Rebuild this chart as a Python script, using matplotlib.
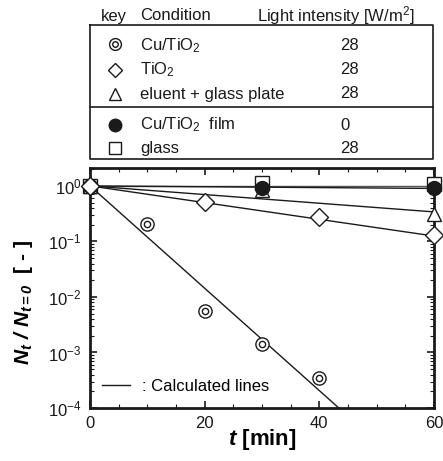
import matplotlib
matplotlib.use("Agg")
from matplotlib import pyplot as plt

plt.rcParams['font.family'] = ['Liberation Sans', 'DejaVu Sans']
plt.rcParams['mathtext.fontset'] = 'custom'
plt.rcParams['mathtext.rm'] = 'Liberation Sans'
plt.rcParams['mathtext.it'] = 'Liberation Sans:italic'
plt.rcParams['mathtext.bf'] = 'Liberation Sans:bold'
plt.rcParams['mathtext.bfit'] = 'Liberation Sans:italic:bold'

# measured points
t_cu = [0, 10, 20, 30, 40]
n_cu = [1.0, 0.21, 0.0055, 0.0014, 0.00035]
t_ti = [0, 20, 40, 60]
n_ti = [1.0, 0.52, 0.27, 0.13]
t_el = [0, 30, 60]
n_el = [1.0, 0.85, 0.31]
t_film = [0, 30, 60]
n_film = [1.0, 0.93, 0.9]
t_gl = [0, 30, 60]
n_gl = [1.0, 1.15, 1.1]

# calculated lines (end points)
calc_t = [0, 60]
calc_cu_t = [0, 43.4]
calc_cu = [1.0, 1e-4]
calc_ti = [1.0, 0.125]
calc_el = [1.0, 0.34]
calc_film = [1.0, 0.9]
calc_gl = [1.0, 1.0]

# table contents
keys = ['dcircle', 'D', '^', 'o', 's']
conditions = ['Cu/TiO$_2$', 'TiO$_2$', 'eluent + glass plate', 'Cu/TiO$_2$  film', 'glass']
intensity = ['28', '28', '28', '0', '28']

fig = plt.figure(figsize=(4.43, 4.61), dpi=100)
ax = fig.add_axes([90/443, 53/461, 344/443, 240/461])

lc = '#1a1a1a'
ax.plot(calc_t, calc_gl, color='#555555', lw=1.0, zorder=2)
ax.plot(calc_t, calc_film, color=lc, lw=1.0, zorder=2)
ax.plot(calc_t, calc_el, color=lc, lw=1.0, zorder=2)
ax.plot(calc_t, calc_ti, color=lc, lw=1.0, zorder=2)
ax.plot(calc_cu_t, calc_cu, color=lc, lw=1.0, zorder=2, label=': Calculated lines')

mk = dict(linestyle='none', clip_on=False, markeredgecolor=lc, markeredgewidth=1.0)
ax.plot(t_gl, n_gl, marker='s', ms=10, markerfacecolor='white', zorder=3, **mk)
ax.plot(t_film, n_film, marker='o', ms=10, markerfacecolor=lc, zorder=4, **mk)
ax.plot(t_el, n_el, marker='^', ms=10, markerfacecolor='white', zorder=3, **mk)
ax.plot(t_cu, n_cu, marker='o', ms=9.5, markerfacecolor='white', zorder=5, **mk)
ax.plot(t_cu, n_cu, marker='o', ms=4.5, markerfacecolor='white', zorder=6, **mk)
ax.plot(t_ti, n_ti, marker='D', ms=9, markerfacecolor='white', zorder=6, **mk)

ax.set_yscale('log')
ax.set_xlim(0, 60)
ax.set_ylim(1e-4, 2.1)
ax.set_xticks([0, 20, 40, 60])
ax.set_xticks(range(0, 61, 5), minor=True)
ax.tick_params(which='both', direction='in', top=True, right=True, labelsize=12, colors=lc)
ax.tick_params(which='major', length=5, width=1.2, pad=6)
ax.tick_params(which='minor', length=3, width=0.8)
for s in ax.spines.values():
    s.set_linewidth(2)
    s.set_color(lc)

ax.set_xlabel(r'$\mathbfit{t}$ [min]', fontsize=16, fontweight='bold')
ax.xaxis.set_label_coords(0.50, -0.08)
ax.set_ylabel(r'$\mathbfit{N_t\ /\ N_{t=0}}$  [ - ]', fontsize=15, fontweight='bold')
ax.yaxis.set_label_coords(-0.16, 0.44)

ax.legend(loc='lower left', frameon=False, fontsize=12, handlelength=1.7,
          handletextpad=0.7, bbox_to_anchor=(0.0, 0.01), borderaxespad=0.3)

# table on top
tb = fig.add_axes([0, 0, 1, 1])
tb.set_xlim(0, 443)
tb.set_ylim(461, 0)
tb.axis('off')
tb.plot([90, 433, 433, 90, 90], [25, 25, 159, 159, 25], color=lc, lw=1.2)
tb.plot([90, 433], [107, 107], color=lc, lw=1.2)
fs = 12
tb.text(101, 16, 'key', fontsize=fs, va='center', color=lc)
tb.text(140, 16, 'Condition', fontsize=fs, va='center', color=lc)
tb.text(257, 16, 'Light intensity [W/m$^2$]', fontsize=fs, va='center', color=lc)
row_y = [46, 70, 94, 125, 148]
for k, c, v, y in zip(keys, conditions, intensity, row_y):
    if k == 'dcircle':
        tb.plot([115], [y - 2], marker='o', ms=8.5, mfc='white', mec=lc, mew=1.0)
        tb.plot([115], [y - 2], marker='o', ms=4, mfc='white', mec=lc, mew=1.0)
    elif k == 'o':
        tb.plot([115], [y], marker='o', ms=9, mfc=lc, mec=lc)
    else:
        tb.plot([115], [y], marker=k, ms=8 if k != 'D' else 7, mfc='white', mec=lc, mew=1.0)
    tb.text(140, y, c, fontsize=fs, va='center', color=lc)
    tb.text(340, y, v, fontsize=fs, va='center', color=lc)

fig.savefig('out.png', dpi=100)
